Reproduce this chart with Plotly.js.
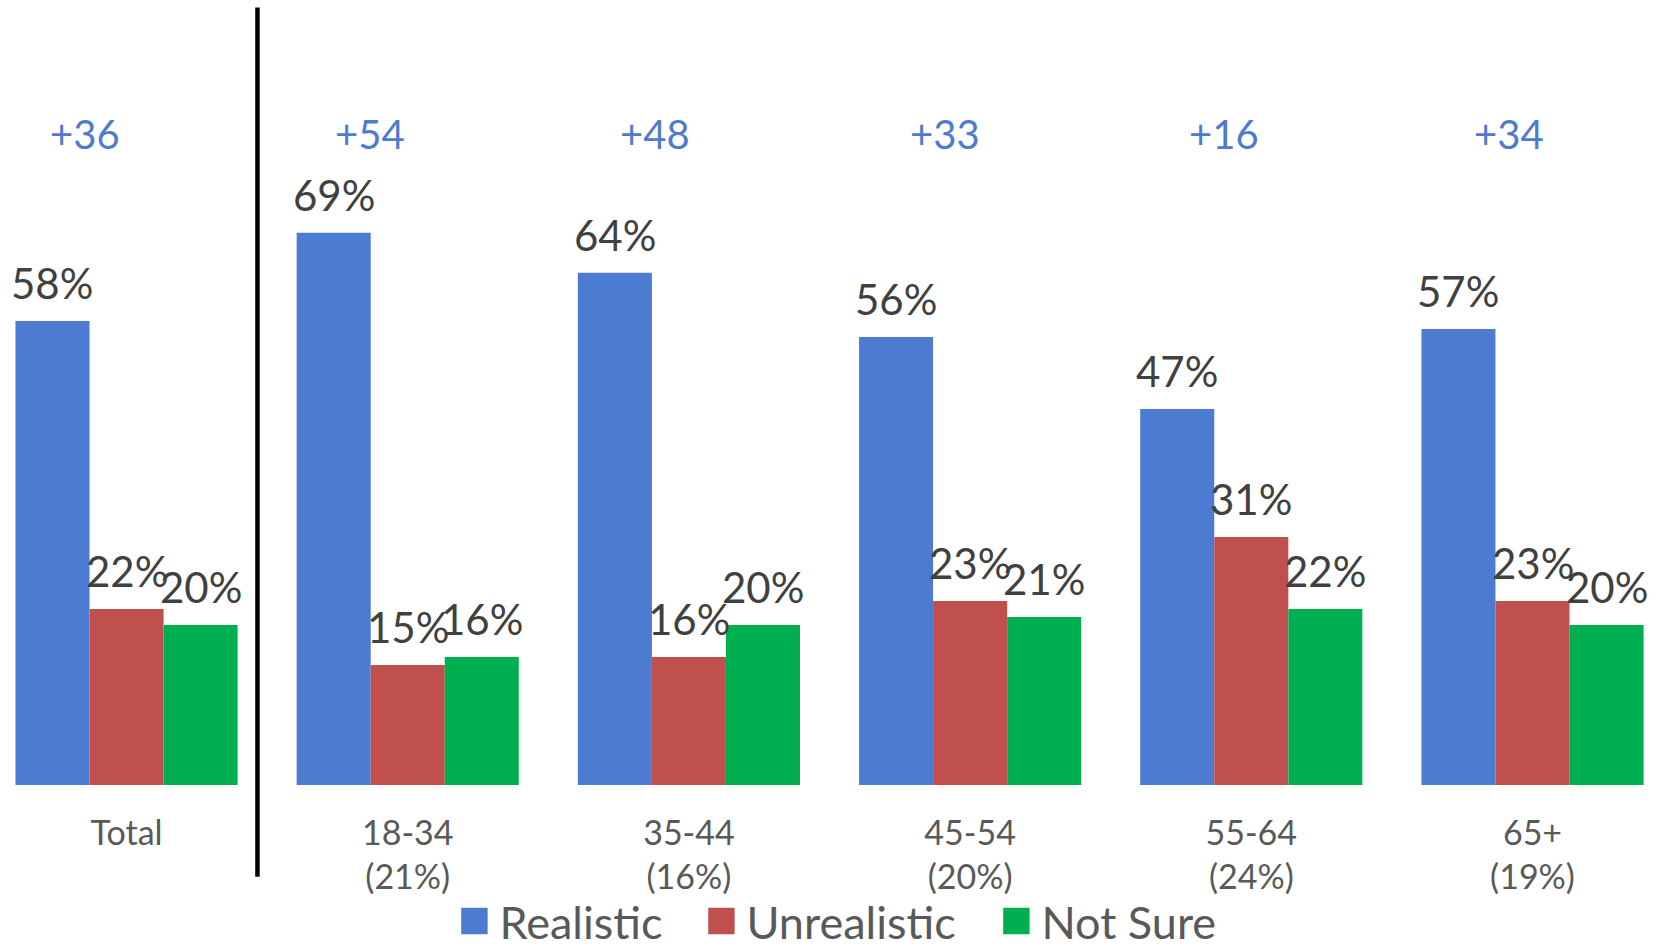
<!DOCTYPE html>
<html>
<head>
<meta charset="utf-8">
<script src="https://cdn.plot.ly/plotly-3.0.1.min.js"></script>
<style>
  html, body { margin: 0; padding: 0; background: #ffffff; }
  #chart { width: 1661px; height: 948px; }
</style>
</head>
<body>
<div id="chart"></div>
<script>
// ---- data ----
const groupNames = ['Total', '18-34', '35-44', '45-54', '55-64', '65+'];
const groupShares = ['', '(21%)', '(16%)', '(20%)', '(24%)', '(19%)'];
const realistic   = [58, 69, 64, 56, 47, 57];
const unrealistic = [22, 15, 16, 23, 31, 23];
const notSure     = [20, 16, 20, 21, 22, 20];
const netLabels   = ['+36', '+54', '+48', '+33', '+16', '+34'];
const seriesNames = ['Realistic', 'Unrealistic', 'Not Sure'];

// ---- layout constants ----
const colors = ['#4D7BD1', '#C0504D', '#00B050'];
const FONT = 'Lato, "Noto Sans", sans-serif';
const netShiftPx = [-42, -38, -34, -25, -27, -24];
const legendX = [0.2766, 0.4253, 0.6029];
const legendIds = ['legend', 'legend2', 'legend3'];
const bargap = 0.21;

const categories = groupNames.map((g, i) => groupShares[i] ? g + '<br>' + groupShares[i] : g);
const seriesValues = [realistic, unrealistic, notSure];

const traces = seriesValues.map((vals, s) => ({
  type: 'bar',
  name: seriesNames[s],
  x: categories,
  y: vals,
  legend: legendIds[s],
  marker: { color: colors[s], line: { width: 0 } },
  hoverinfo: 'x+y+name'
}));

const annotations = [];
const barW = (1 - bargap) / 3;
seriesValues.forEach((vals, s) => {
  vals.forEach((v, i) => {
    annotations.push({
      xref: 'x', yref: 'y',
      x: i + (s - 1) * barW,
      y: v,
      yanchor: 'bottom',
      yshift: 11,
      text: v + '%',
      showarrow: false,
      font: { family: FONT, size: 42, color: '#404040' }
    });
  });
});
netLabels.forEach((t, i) => {
  annotations.push({
    xref: 'x', yref: 'paper',
    x: i, xshift: netShiftPx[i],
    y: 0.829, yanchor: 'middle',
    text: t,
    showarrow: false,
    font: { family: FONT, size: 40, color: '#4D7BD1' }
  });
});

const layout = {
  width: 1661, height: 948,
  paper_bgcolor: '#ffffff', plot_bgcolor: '#ffffff',
  margin: { l: 0, r: 0, t: 0, b: 163, autoexpand: false },
  barmode: 'group',
  bargap: bargap,
  bargroupgap: 0,
  font: { family: FONT, color: '#595959' },
  xaxis: {
    type: 'category',
    range: [-0.45, 5.457],
    showgrid: false, zeroline: false, showline: false,
    ticks: '',
    ticklabelstandoff: 25,
    tickfont: { family: FONT, size: 34, color: '#595959' },
    fixedrange: true
  },
  yaxis: {
    range: [0, 98.1],
    visible: false,
    showgrid: false, zeroline: false,
    fixedrange: true
  },
  showlegend: true,
  shapes: [{
    type: 'line', xref: 'paper', yref: 'paper',
    x0: 0.155, x1: 0.155, y0: 0.9906, y1: -0.117,
    line: { color: '#000000', width: 4.5 }
  }],
  annotations: annotations
};
legendIds.forEach((id, s) => {
  layout[id] = {
    orientation: 'h',
    x: legendX[s], xanchor: 'left',
    y: -0.2195, yanchor: 'bottom',
    font: { family: FONT, size: 45, color: '#595959' },
    itemwidth: 30,
    bgcolor: 'rgba(0,0,0,0)'
  };
});

const gd = document.getElementById('chart');
function bigSymbols() {
  gd.querySelectorAll('.legendpoints path').forEach(p => {
    if (!p.hasAttribute('data-orig-tf')) {
      p.setAttribute('data-orig-tf', p.getAttribute('transform') || '');
    }
    p.setAttribute('transform', p.getAttribute('data-orig-tf') + ' translate(-5,0) scale(2.2)');
  });
}
Plotly.newPlot(gd, traces, layout, { displayModeBar: false }).then(() => {
  bigSymbols();
  gd.on('plotly_afterplot', bigSymbols);
});
</script>
</body>
</html>
